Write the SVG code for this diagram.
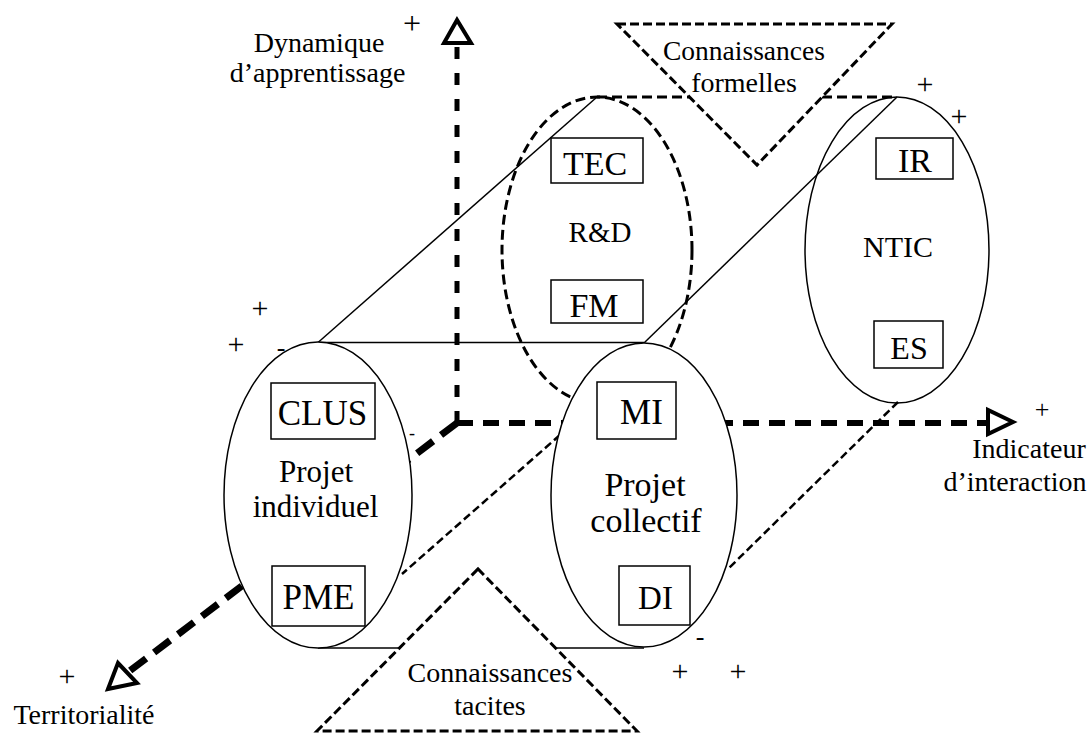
<svg xmlns="http://www.w3.org/2000/svg" width="1090" height="733" viewBox="0 0 1090 733">
<rect width="1090" height="733" fill="#fff"/>

<g id="axes" stroke="#000">
  <line x1="457" y1="423" x2="457" y2="44" stroke-width="5" stroke-dasharray="12 14"/>
  <polygon points="457,20 444,43 471,43" fill="#fff" stroke-width="4"/>
  <line x1="457" y1="423" x2="988" y2="423" stroke-width="6" stroke-dasharray="16 10"/>
  <polygon points="1013,422 988,410 988,434" fill="#fff" stroke-width="4"/>
  <line x1="457" y1="423" x2="127" y2="673" stroke-width="7" stroke-dasharray="20 10"/>
  <polygon points="108,689 118,663 137,683" fill="#fff" stroke-width="4"/>
</g>

<g id="connectors" fill="none" stroke="#000">
  <line x1="560" y1="435" x2="402" y2="574" stroke-width="2.5" stroke-dasharray="8 4"/>
  <line x1="898" y1="402" x2="728" y2="569" stroke-width="2.5" stroke-dasharray="8 4"/>
  <line x1="597" y1="97" x2="897" y2="97" stroke-width="3" stroke-dasharray="10 5"/>
  <line x1="318" y1="342.5" x2="597" y2="97" stroke-width="1.5"/>
  <line x1="644" y1="343" x2="897" y2="97" stroke-width="1.5"/>
  <line x1="318" y1="342.5" x2="644" y2="342.5" stroke-width="1.5"/>
  <line x1="318" y1="648" x2="644" y2="648" stroke-width="1.5"/>
</g>

<g id="node-rd" font-family="Liberation Serif" text-anchor="middle">
  <ellipse cx="597" cy="250" rx="95" ry="153" fill="none" stroke="#000" stroke-width="3" stroke-dasharray="10 5"/>
  <rect x="551" y="138" width="92" height="45" fill="#fff" stroke="#000" stroke-width="1.5"/>
  <text font-family="Liberation Serif" x="595" y="175" font-size="34">TEC</text>
  <text font-family="Liberation Serif" x="600" y="242" font-size="29">R&amp;D</text>
  <rect x="551" y="280" width="92" height="43" fill="#fff" stroke="#000" stroke-width="1.5"/>
  <text font-family="Liberation Serif" x="594" y="317" font-size="34">FM</text>
</g>

<g id="node-ntic" font-family="Liberation Serif" text-anchor="middle">
  <ellipse cx="897" cy="250" rx="92" ry="153" fill="none" stroke="#000" stroke-width="1.5"/>
  <rect x="876" y="138" width="77" height="41" fill="#fff" stroke="#000" stroke-width="1.5"/>
  <text font-family="Liberation Serif" x="915" y="172" font-size="34">IR</text>
  <text font-family="Liberation Serif" x="898" y="257" font-size="30">NTIC</text>
  <rect x="874" y="321" width="69" height="47" fill="#fff" stroke="#000" stroke-width="1.5"/>
  <text font-family="Liberation Serif" x="909" y="359" font-size="32">ES</text>
</g>

<g id="node-formelles" font-family="Liberation Serif" text-anchor="middle">
  <polygon points="617,24 892,24 757,165" fill="#fff" stroke="#000" stroke-width="3" stroke-dasharray="9 4"/>
  <text font-family="Liberation Serif" x="744" y="60" font-size="27.5">Connaissances</text>
  <text font-family="Liberation Serif" x="744" y="92" font-size="28">formelles</text>
</g>

<g id="node-tacites" font-family="Liberation Serif" text-anchor="middle">
  <polygon points="478,569 317,731 637,731" fill="#fff" stroke="#000" stroke-width="3" stroke-dasharray="9 4"/>
  <text font-family="Liberation Serif" x="490" y="682" font-size="28">Connaissances</text>
  <text font-family="Liberation Serif" x="490" y="715" font-size="28">tacites</text>
</g>

<g id="node-individuel" font-family="Liberation Serif" text-anchor="middle">
  <ellipse cx="318" cy="495" rx="94" ry="153" fill="#fff" stroke="#000" stroke-width="1.5"/>
  <rect x="271" y="383" width="104" height="56" fill="#fff" stroke="#000" stroke-width="1.5"/>
  <text font-family="Liberation Serif" x="322.5" y="425" font-size="35">CLUS</text>
  <text font-family="Liberation Serif" x="316" y="482" font-size="31">Projet</text>
  <text font-family="Liberation Serif" x="315.5" y="517" font-size="31">individuel</text>
  <rect x="272" y="566" width="93" height="60" fill="#fff" stroke="#000" stroke-width="1.5"/>
  <text font-family="Liberation Serif" x="318.5" y="609" font-size="35">PME</text>
</g>

<g id="node-collectif" font-family="Liberation Serif" text-anchor="middle">
  <ellipse cx="644" cy="495" rx="93" ry="152" fill="#fff" stroke="#000" stroke-width="1.5"/>
  <rect x="597" y="382" width="79" height="57" fill="#fff" stroke="#000" stroke-width="1.5"/>
  <text font-family="Liberation Serif" x="641.5" y="424" font-size="35">MI</text>
  <text font-family="Liberation Serif" x="645" y="496" font-size="34">Projet</text>
  <text font-family="Liberation Serif" x="646" y="532" font-size="34">collectif</text>
  <rect x="619" y="566" width="71" height="59" fill="#fff" stroke="#000" stroke-width="1.5"/>
  <text font-family="Liberation Serif" x="655.5" y="609" font-size="33">DI</text>
</g>

<g id="axis-labels" font-family="Liberation Serif" text-anchor="middle" font-size="28">
  <text font-family="Liberation Serif" x="319" y="52">Dynamique</text>
  <text font-family="Liberation Serif" x="317.5" y="82">d’apprentissage</text>
  <text font-family="Liberation Serif" x="1029" y="458">Indicateur</text>
  <text font-family="Liberation Serif" x="1015" y="491">d’interaction</text>
  <text font-family="Liberation Serif" x="84" y="724">Territorialité</text>
</g>

<g id="signs" font-family="Liberation Serif" text-anchor="middle" font-size="30">
  <text font-family="Liberation Serif" x="412" y="34" font-size="32">+</text>
  <text font-family="Liberation Serif" x="925" y="94">+</text>
  <text font-family="Liberation Serif" x="959" y="126">+</text>
  <text font-family="Liberation Serif" x="260" y="318">+</text>
  <text font-family="Liberation Serif" x="236" y="354">+</text>
  <text font-family="Liberation Serif" x="1042" y="418" font-size="26">+</text>
  <text font-family="Liberation Serif" x="67" y="686">+</text>
  <text font-family="Liberation Serif" x="680" y="681">+</text>
  <text font-family="Liberation Serif" x="738" y="681">+</text>
  <text font-family="Liberation Serif" x="281" y="356" font-size="26">-</text>
  <text font-family="Liberation Serif" x="412" y="439" font-size="18">-</text>
  <text font-family="Liberation Serif" x="700" y="645" font-size="26">-</text>
</g>
</svg>
